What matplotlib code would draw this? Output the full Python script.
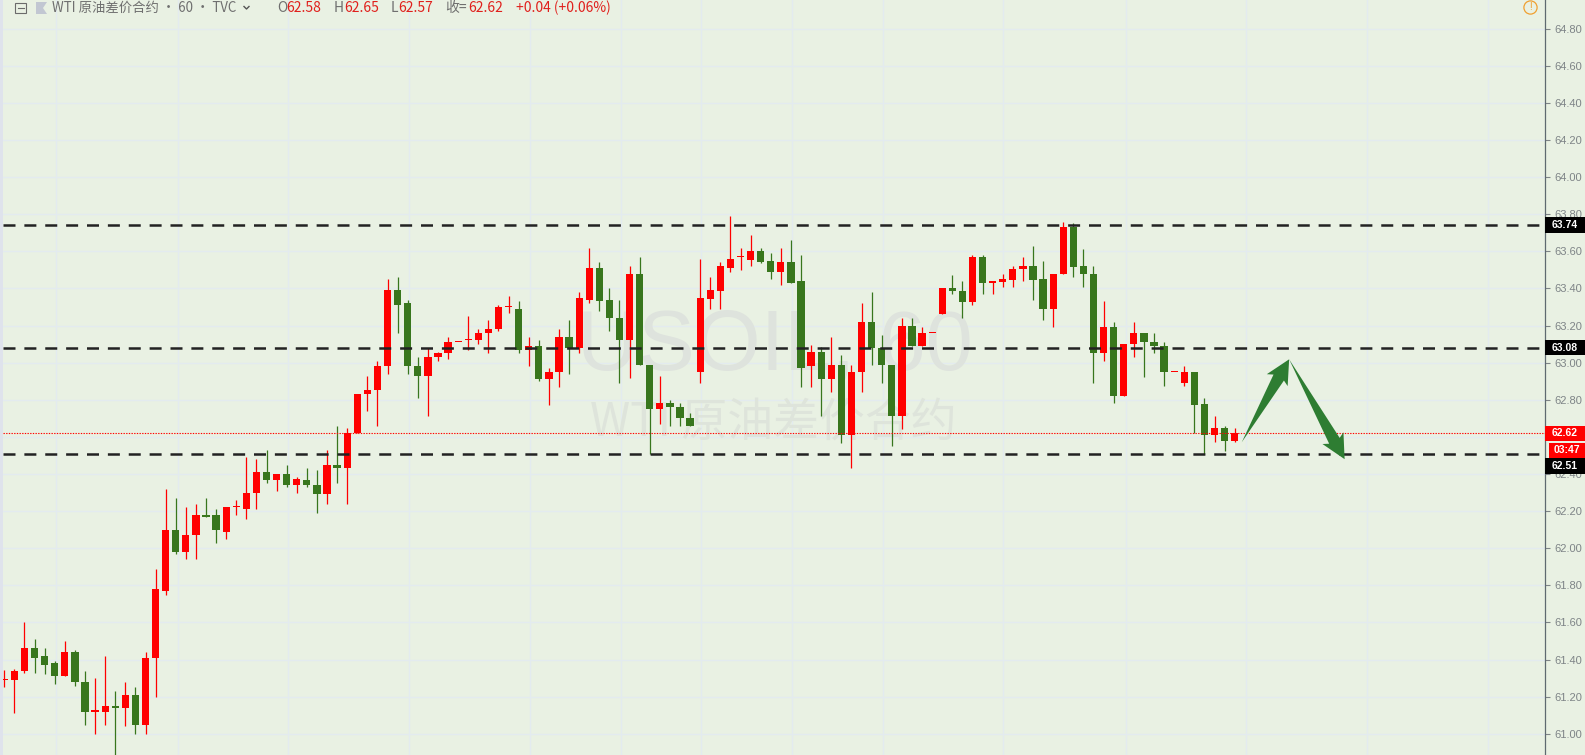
import numpy as np
import matplotlib
matplotlib.use("Agg")
import matplotlib.pyplot as plt
from matplotlib.patches import Rectangle

# %% data, hourly candles
opens = [61.29, 61.29, 61.34, 61.46, 61.42, 61.38, 61.31, 61.44, 61.28, 61.12,
         61.12, 61.15, 61.14, 61.21, 61.05, 61.41, 61.77, 62.10, 61.98, 62.07,
         62.18, 62.18, 62.09, 62.22, 62.21, 62.30, 62.41, 62.37, 62.40, 62.34,
         62.37, 62.34, 62.29, 62.45, 62.43, 62.62, 62.83, 62.85, 62.98, 63.39,
         63.32, 62.98, 62.93, 63.03, 63.05, 63.11, 63.12, 63.12, 63.16, 63.18,
         63.30, 63.29, 63.07, 63.09, 62.91, 62.95, 63.14, 63.08, 63.34, 63.51,
         63.34, 63.24, 63.12, 63.48, 62.99, 62.75, 62.78, 62.76, 62.70, 62.95,
         63.345, 63.385, 63.51, 63.57, 63.555, 63.60, 63.55, 63.49, 63.54, 63.44,
         62.98, 63.06, 62.91, 62.99, 62.61, 62.95, 63.22, 63.08, 62.99, 62.71,
         63.20, 63.09, 63.16, 63.26, 63.40, 63.385, 63.325, 63.57, 63.43, 63.435,
         63.445, 63.505, 63.52, 63.45, 63.29, 63.48, 63.73, 63.52, 63.48, 63.05,
         63.19, 62.82, 63.10, 63.16, 63.11, 63.09, 62.95, 62.89, 62.95, 62.775,
         62.61, 62.65, 62.58]
closes = [61.29, 61.34, 61.46, 61.41, 61.37, 61.31, 61.44, 61.28, 61.12, 61.12,
          61.15, 61.14, 61.21, 61.05, 61.41, 61.78, 62.10, 61.98, 62.07, 62.18,
          62.17, 62.10, 62.22, 62.22, 62.30, 62.41, 62.37, 62.40, 62.34, 62.375,
          62.34, 62.29, 62.45, 62.43, 62.62, 62.83, 62.85, 62.98, 63.39, 63.31,
          62.98, 62.93, 63.03, 63.05, 63.11, 63.11, 63.12, 63.16, 63.18, 63.30,
          63.30, 63.07, 63.09, 62.91, 62.95, 63.14, 63.08, 63.35, 63.51, 63.33,
          63.24, 63.12, 63.48, 62.99, 62.75, 62.78, 62.76, 62.70, 62.66, 63.35,
          63.39, 63.52, 63.56, 63.57, 63.60, 63.545, 63.49, 63.54, 63.43, 62.97,
          63.06, 62.91, 62.99, 62.61, 62.95, 63.22, 63.08, 62.99, 62.71, 63.20,
          63.09, 63.16, 63.16, 63.40, 63.385, 63.325, 63.57, 63.43, 63.44, 63.45,
          63.505, 63.52, 63.445, 63.29, 63.48, 63.73, 63.515, 63.48, 63.05, 63.19,
          62.82, 63.10, 63.16, 63.11, 63.09, 62.95, 62.95, 62.95, 62.77, 62.61,
          62.65, 62.58, 62.62]
highs = [61.345, 61.35, 61.60, 61.51, 61.46, 61.39, 61.50, 61.45, 61.34, 61.30,
         61.42, 61.23, 61.28, 61.25, 61.44, 61.89, 62.32, 62.27, 62.22, 62.24,
         62.27, 62.21, 62.22, 62.26, 62.49, 62.48, 62.53, 62.40, 62.45, 62.385,
         62.43, 62.42, 62.53, 62.66, 62.65, 62.83, 62.93, 63.01, 63.45, 63.46,
         63.34, 63.03, 63.08, 63.06, 63.14, 63.11, 63.25, 63.18, 63.23, 63.31,
         63.36, 63.33, 63.14, 63.12, 62.97, 63.18, 63.23, 63.38, 63.62, 63.54,
         63.40, 63.34, 63.52, 63.57, 62.99, 62.93, 62.80, 62.78, 62.73, 63.56,
         63.46, 63.54, 63.79, 63.62, 63.69, 63.62, 63.59, 63.62, 63.66, 63.58,
         63.095, 63.085, 63.14, 63.04, 62.99, 63.32, 63.38, 63.15, 62.99, 63.24,
         63.24, 63.19, 63.16, 63.40, 63.47, 63.44, 63.58, 63.58, 63.44, 63.48,
         63.52, 63.57, 63.63, 63.55, 63.48, 63.76, 63.75, 63.61, 63.52, 63.33,
         63.22, 63.10, 63.22, 63.16, 63.16, 63.11, 62.95, 62.98, 62.95, 62.81,
         62.71, 62.66, 62.65]
lows = [61.25, 61.11, 61.33, 61.33, 61.32, 61.27, 61.31, 61.26, 61.05, 61.00,
        61.05, 60.87, 61.04, 61.00, 61.00, 61.20, 61.75, 61.97, 61.94, 61.94,
        62.17, 62.03, 62.05, 62.18, 62.16, 62.21, 62.35, 62.31, 62.33, 62.30,
        62.33, 62.19, 62.24, 62.35, 62.24, 62.62, 62.74, 62.66, 62.94, 63.16,
        62.94, 62.81, 62.71, 63.01, 63.02, 63.11, 63.07, 63.10, 63.05, 63.17,
        63.27, 63.05, 62.98, 62.90, 62.77, 62.87, 62.94, 63.05, 63.32, 63.28,
        63.17, 62.89, 62.92, 62.99, 62.51, 62.67, 62.66, 62.66, 62.66, 62.89,
        63.29, 63.29, 63.49, 63.50, 63.52, 63.535, 63.45, 63.42, 63.43, 62.87,
        62.87, 62.715, 62.84, 62.565, 62.435, 62.84, 62.99, 62.89, 62.55, 62.64,
        63.09, 63.09, 63.16, 63.26, 63.37, 63.24, 63.31, 63.37, 63.37, 63.41,
        63.41, 63.44, 63.34, 63.23, 63.19, 63.48, 63.46, 63.41, 62.89, 63.01,
        62.78, 62.82, 63.03, 62.925, 63.05, 62.875, 62.95, 62.875, 62.62, 62.51,
        62.575, 62.525, 62.57]

price_ticks = np.arange(61.0, 64.81, 0.2)
level_prices = [63.74, 63.08, 62.51]
last_price = 62.62
grid_bars = [5.1, 17.2, 28.1, 40.1, 52.1, 61.1, 69.1, 78.1, 87.1, 99.0, 111.2, 123.1, 135.1, 147.1]
up_tail = (122.7, 62.571)
turn_point = (127.4, 63.018)
down_tip = (132.9, 62.48)

# %% colours
bg = "#e9f1e3"
red = "#ff0000"
green = "#38761d"
arrow_green = "#2e7d32"
grid_col = "#e3ebef"
grey = "#7e8487"
cjk = ["Noto Sans CJK SC", "DejaVu Sans"]

W, H = 1585, 755
fig = plt.figure(figsize=(W / 100, H / 100), dpi=100, facecolor=bg)
ax = fig.add_axes([3 / W, 0, 1542 / W, 1], facecolor=bg)
ax.set_xlim(-0.13, 152.77)
ax.set_ylim(60.886, 64.954)

ax.set_axisbelow(True)
ax.yaxis.tick_right()
ax.set_yticks(price_ticks)
# 62.60 sits fully under the last price tag, so it stays blank
tick_text = ["" if abs(p - 62.6) < 0.01 else f"{p:.2f}" for p in price_ticks]
ax.set_yticklabels(tick_text, family="Liberation Sans", fontsize=8, color=grey)
ax.tick_params(axis="y", length=3.5, width=0.8, color=grey, pad=3)
ax.set_xticks(grid_bars)
ax.tick_params(axis="x", length=0, labelbottom=False)
ax.grid(True, color=grid_col, lw=1.0)
for s in ["left", "top", "bottom"]:
    ax.spines[s].set_visible(False)
ax.spines["right"].set_color("#5f6a70")
ax.spines["right"].set_linewidth(0.9)

# left strip of the window
fig.patches.append(Rectangle((0, 0), 3 / W, 1, transform=fig.transFigure, color="#dfe3ec", lw=0))

# %% watermark
ax.text(76.4, 63.08, "USOIL, 60", fontsize=61, color="#dee3dd", ha="center", va="center",
        family="Liberation Sans", zorder=1)
ax.text(76.3, 62.68, "WTI 原油差价合约", fontsize=33, color="#dee4db", ha="center", va="center",
        family=cjk, zorder=1)

# %% candles
x = np.arange(len(opens))
o = np.array(opens)
c = np.array(closes)
cols = [red if cc >= oo else green for oo, cc in zip(o, c)]
ax.vlines(x, lows, highs, colors=cols, lw=0.9, zorder=3)
ax.bar(x, np.maximum(np.abs(c - o), 0.007), bottom=np.minimum(o, c), width=0.72, color=cols, lw=0, zorder=3)

# %% levels
for p in level_prices:
    ax.axhline(p, color="#222222", lw=1.8, linestyle=(0, (4.8, 3.55)), zorder=4)
ax.axhline(last_price, color=red, lw=0.8, linestyle=(0, (1.2, 1.2)), zorder=4)


# %% hand drawn arrows
def draw_arrow(tail, tip, head_len=24, head_w=24, neck_w=12):
    a = ax.transData.transform(tail)
    b = ax.transData.transform(tip)
    d = (b - a) / np.hypot(*(b - a))
    n = np.array([-d[1], d[0]])
    base = b - d * head_len
    neck = b - d * (head_len - 3)
    pts = [a, neck + n * neck_w / 2, base + n * head_w / 2, b, base - n * head_w / 2, neck - n * neck_w / 2]
    pts = ax.transData.inverted().transform(np.array(pts))
    ax.fill(pts[:, 0], pts[:, 1], color=arrow_green, lw=0, zorder=5)


draw_arrow(up_tail, turn_point)
draw_arrow(turn_point, down_tip)


# %% price tags right of the axis
def tag(y_px, text, col, left=0):
    x0 = (1545 + left) / W
    y0 = 1 - y_px / H
    fig.patches.append(Rectangle((x0, y0 - 7.6 / H), (40 - left) / W, 15.2 / H, transform=fig.transFigure,
                                 color=col, lw=0, zorder=6))
    fig.text(1565 / W + left / (2 * W), y0, text, color="white", fontsize=7.5, fontweight="bold",
             family="Liberation Sans", ha="center", va="center", zorder=7)


tag(225, "63.74", "black")
tag(347.7, "63.08", "black")
tag(466, "62.51", "black")
tag(433.3, "62.62", red)
tag(450.5, "03:47", red, left=4)

# %% header
fig.patches.append(Rectangle((15 / W, 1 - 13 / H), 11 / W, 10 / H, transform=fig.transFigure,
                             fill=False, ec="#6b6b6b", lw=0.8))
fig.lines.append(plt.Line2D([17.5 / W, 23.5 / W], [1 - 8 / H, 1 - 8 / H], transform=fig.transFigure,
                            color="#6b6b6b", lw=0.8))
fig.patches.append(plt.Polygon([(36 / W, 1 - 2 / H), (47 / W, 1 - 2 / H), (43 / W, 1 - 8 / H),
                                (47 / W, 1 - 14 / H), (36 / W, 1 - 14 / H)], transform=fig.transFigure,
                               color="#c2c7d2", lw=0))


def head(x_px, text, col="#6f6f6f", size=10):
    fig.text(x_px / W, 1 - 8 / H, text, color=col, fontsize=size, family=cjk, ha="left", va="center")


head(52, "WTI 原油差价合约 · 60 · TVC", size=9.6)
head(277, "O")
head(286, "62.58", "#e0201c")
head(334, "H")
head(344, "62.65", "#e0201c")
head(391, "L")
head(398, "62.57", "#e0201c")
head(445, "收=")
head(468, "62.62", "#e0201c")
head(516, "+0.04 (+0.06%)", "#e0201c")
fig.lines.append(plt.Line2D([244 / W, 246.5 / W, 249 / W], [1 - 6.5 / H, 1 - 9 / H, 1 - 6.5 / H],
                            transform=fig.transFigure, color="#555555", lw=1))

# info icon top right
fig.lines.append(plt.Line2D([1530 / W], [1 - 7 / H], transform=fig.transFigure, marker="o", ms=9.5,
                            mfc="none", mec="#f0a030", mew=0.9))
fig.text(1530 / W, 1 - 7 / H, "!", color="#f0a030", fontsize=7, ha="center", va="center", family="Liberation Sans")

fig.savefig("out.png", dpi=100, facecolor=bg)
